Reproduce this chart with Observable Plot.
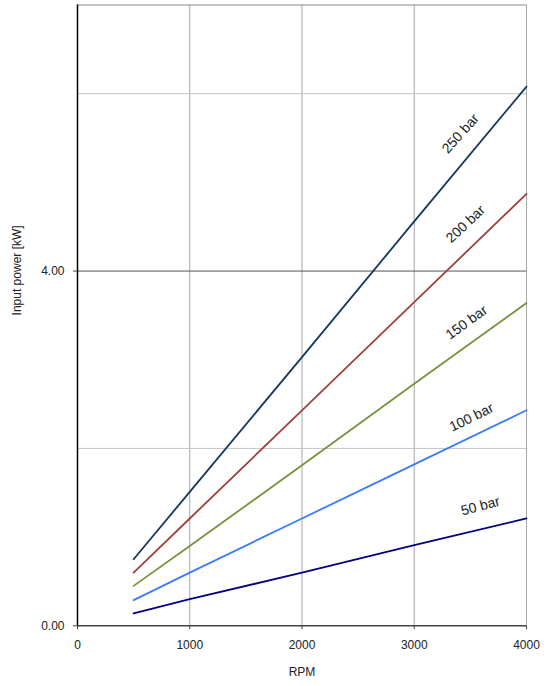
<!DOCTYPE html>
<html>
<head>
<meta charset="utf-8">
<script src="https://cdn.jsdelivr.net/npm/d3@7"></script>
<script src="https://cdn.jsdelivr.net/npm/@observablehq/plot@0.6"></script>
<style>
  html, body { margin: 0; padding: 0; background: #fff; }
  #chart { width: 554px; height: 686px; }
</style>
</head>
<body>
<div id="chart"></div>
<script>
// ---- data ----
const rpm = [500, 1000, 2000, 3000, 4000];
const series = ["50 bar", "100 bar", "150 bar", "200 bar", "250 bar"];
const p50  = [0.14, 0.30, 0.60, 0.91, 1.21];
const p100 = [0.29, 0.60, 1.21, 1.82, 2.43];
const p150 = [0.45, 0.90, 1.81, 2.73, 3.64];
const p200 = [0.60, 1.21, 2.43, 3.65, 4.87];
const p250 = [0.75, 1.51, 3.03, 4.56, 6.08];
const xTicks = [0, 1000, 2000, 3000, 4000];
const yTicks = [0, 4];
const yGridMinor = [2, 6];

// annotation placement (rpm, kW, angle)
const labelRpm = [3590, 3510, 3466, 3457, 3412];
const labelKw = [1.35, 2.35, 3.42, 4.53, 5.55];
const labelAngle = [-15, -26, -36, -43, -48];

const colors = ["#000080", "#3a7bff", "#77933c", "#a0403c", "#17375e"];

const values = [p50, p100, p150, p200, p250];
const rows = [];
series.forEach((s, i) => rpm.forEach((r, j) => rows.push({series: s, rpm: r, kw: values[i][j]})));
const labels = series.map((s, i) => ({series: s, rpm: labelRpm[i], kw: labelKw[i], angle: labelAngle[i]}));

const chart = Plot.plot({
  width: 554,
  height: 686,
  marginLeft: 77,
  marginRight: 28,
  marginTop: 4.5,
  marginBottom: 60.7,
  style: {fontFamily: "'Liberation Sans', Arial, sans-serif", fontSize: "12px", color: "#222", background: "#fff"},
  x: {domain: [0, 4000]},
  y: {domain: [0, 7]},
  color: {domain: series, range: colors},
  marks: [
    Plot.ruleX(xTicks.slice(1), {stroke: "#a6a6a6", strokeWidth: 1}),
    Plot.ruleY(yGridMinor, {stroke: "#c4c4c4", strokeWidth: 1}),
    Plot.ruleY([4], {stroke: "#555", strokeWidth: 1}),
    Plot.ruleY([7], {stroke: "#8c8c8c", strokeWidth: 1}),
    Plot.line(rows, {x: "rpm", y: "kw", z: "series", stroke: "series", strokeWidth: 1.8}),
    Plot.text(labels, {x: "rpm", y: "kw", text: "series", rotate: "angle", fill: "#222", fontSize: 14, textAnchor: "middle", lineAnchor: "middle"}),
    Plot.ruleY([0], {stroke: "#444", strokeWidth: 1.5}),
    Plot.ruleX([0], {stroke: "#000", strokeWidth: 1.5}),
    Plot.axisX({ticks: xTicks, tickSize: 4, tickPadding: 11, tickFormat: d => String(d), label: null, stroke: "#444", fontSize: 12}),
    Plot.axisY({ticks: yTicks, tickSize: 4, tickPadding: 9, tickFormat: d3.format(".2f"), label: null, stroke: "#444", fontSize: 12}),
    Plot.text(["RPM"], {frameAnchor: "bottom", dy: 46, fontSize: 12, fill: "#222", lineAnchor: "middle"}),
    Plot.text(["Input power [kW]"], {frameAnchor: "left", dx: -60, rotate: -90, fontSize: 12, fill: "#222", lineAnchor: "middle"})
  ]
});
document.getElementById("chart").appendChild(chart);
</script>
</body>
</html>
